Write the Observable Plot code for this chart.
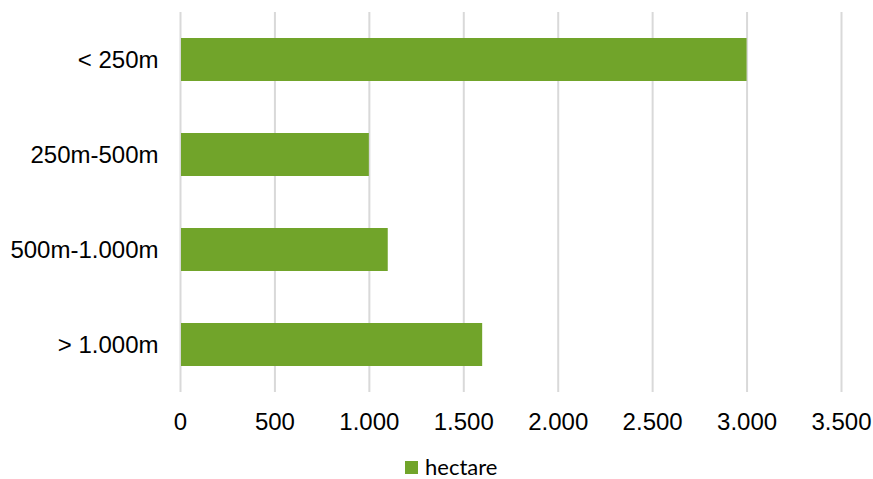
<!DOCTYPE html>
<html>
<head>
<meta charset="utf-8">
<script src="https://cdn.jsdelivr.net/npm/d3@7"></script>
<script src="https://cdn.jsdelivr.net/npm/@observablehq/plot@0.6"></script>
<style>
  html, body { margin: 0; padding: 0; background: #fff; width: 873px; height: 479px; overflow: hidden; position: relative; }
  #legend { position: absolute; left: 405px; top: 455px; display: flex; align-items: center; font-family: Lato, "Open Sans", sans-serif; font-size: 22px; line-height: 24px; color: #000; white-space: nowrap; }
  #legend .sw { width: 13px; height: 13px; background: #71a42a; margin-right: 7px; }
</style>
</head>
<body>
<div id="chart"></div>
<div id="legend"><span class="sw"></span><span>hectare</span></div>
<script>
const categories = ["< 250m", "250m-500m", "500m-1.000m", "> 1.000m"];
const hectare = [3000, 1000, 1100, 1600];
const xTicks = [0, 500, 1000, 1500, 2000, 2500, 3000, 3500];
const seriesName = "hectare";

const data = categories.map((c, i) => ({category: c, value: hectare[i]}));
const fmt = v => d3.format(",")(v).replace(/,/g, ".");

const chart = Plot.plot({
  width: 873,
  height: 440,
  marginTop: 12,
  marginBottom: 48,
  marginLeft: 180,
  marginRight: 32,
  style: { fontFamily: '"Liberation Sans", Arial, sans-serif', fontSize: "24px", color: "#000", background: "#fff" },
  x: { domain: [0, 3500], ticks: xTicks, tickFormat: fmt, label: null },
  y: { domain: categories, paddingInner: 0.55, paddingOuter: 0.275, label: null },
  marks: [
    Plot.ruleX(xTicks, { stroke: "#d9d9d9", strokeWidth: 2 }),
    Plot.barX(data, { x: "value", y: "category", fill: "#71a42a", insetLeft: 1 }),
    Plot.axisX({ ticks: xTicks, tickFormat: fmt, tickSize: 0, tickPadding: 20, label: null, fontSize: 24 }),
    Plot.axisY({ tickSize: 0, tickPadding: 22, label: null, fontSize: 24 })
  ]
});
document.getElementById("chart").appendChild(chart);
</script>
</body>
</html>
